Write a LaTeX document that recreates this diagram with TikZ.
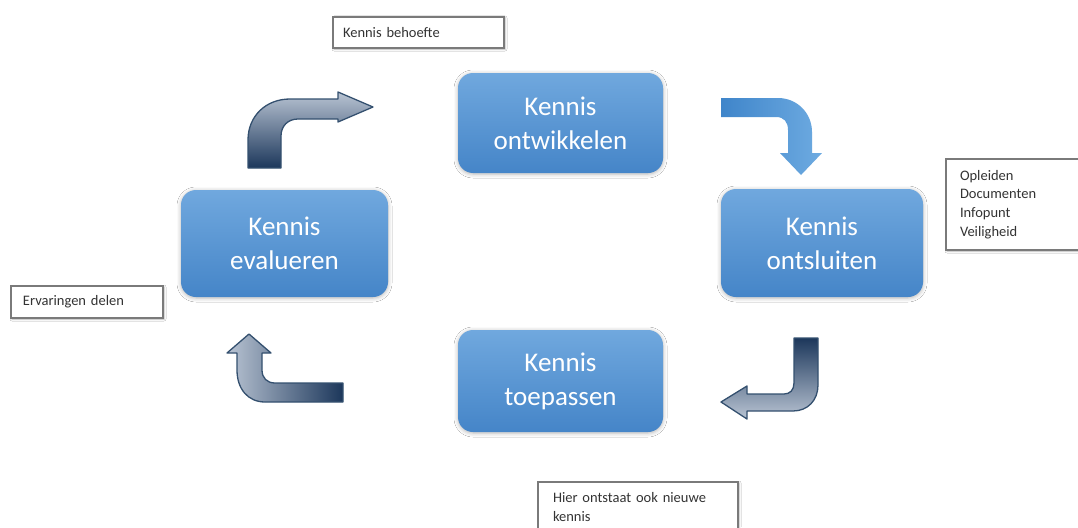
\documentclass[tikz,border=0pt]{standalone}
\usepackage{fontspec}
\setmainfont{Carlito}
\usetikzlibrary{shadows.blur}
\definecolor{boxtop}{HTML}{70A8DE}
\definecolor{boxbot}{HTML}{4585C8}
\definecolor{navy}{HTML}{1C375B}
\definecolor{steel}{HTML}{B9C4D3}
\definecolor{outl}{HTML}{34506F}
\definecolor{blueL}{HTML}{3F85CA}
\definecolor{blueR}{HTML}{6EABE1}
\definecolor{lbltext}{HTML}{333333}
\definecolor{lblline}{HTML}{7A7A7A}
\tikzset{
  mainbox/.style={rounded corners=15pt, top color=boxtop, bottom color=boxbot,
    draw=none, text=white, font=\fontsize{27}{34}\selectfont, align=center,
    blur shadow={shadow xshift=0pt, shadow yshift=-1pt, shadow blur radius=4pt, shadow opacity=30}},
  lblbox/.style={draw=lblline, line width=1.3pt, fill=white, text=lbltext,
    font=\fontsize{14.5}{18.7}\selectfont, align=left, inner ysep=0pt,
    blur shadow={shadow xshift=1pt, shadow yshift=-1pt, shadow blur radius=2pt, shadow opacity=30}},
  grayarrow/.style={draw=outl, line width=1.3pt, line join=round},
  bluearrow/.style={draw=none, left color=blueL, right color=blueR}
}
\begin{document}
\begin{tikzpicture}[x=1pt,y=-1pt]
\useasboundingbox (0,0) rectangle (1078,527);
\clip (0,0) rectangle (1078,527);
\fill[white] (0,0) rectangle (1078,527);

% main boxes
\node[mainbox, minimum width=205pt, minimum height=100pt] (ontw) at (560.5,123) {Kennis\\ontwikkelen};
\node[mainbox, minimum width=202pt, minimum height=108pt] (ontsl) at (822,243) {Kennis\\ontsluiten};
\node[mainbox, minimum width=205pt, minimum height=102pt] (toep) at (560.5,381) {Kennis\\toepassen};
\node[mainbox, minimum width=207pt, minimum height=107pt] (eval) at (284.5,243.5) {Kennis\\evalueren};

% label boxes
\node[lblbox, minimum width=171pt, minimum height=31pt, text width=151pt, inner xsep=10pt] (behoefte) at (418.5,32.5) {Kennis behoefte};
\node[lblbox, minimum width=152pt, minimum height=32pt, text width=128pt, inner xsep=12pt] (ervaring) at (87,302) {Ervaringen delen};
\node[lblbox, minimum width=140pt, minimum height=91pt, text width=112pt, inner xsep=14pt] (opleiden) at (1016,204.5) {Opleiden\\Documenten\\Infopunt\\Veiligheid};
\node[lblbox, minimum width=200pt, minimum height=50pt, text width=170pt, inner xsep=15pt] (hier) at (638,507) {Hier ontstaat ook nieuwe\\kennis};

% arrow evalueren -> ontwikkelen
\draw[grayarrow, top color=steel, bottom color=navy]
  (248,168) -- (248,140) .. controls (248,116) and (266,99) .. (290,99)
  -- (338,99) -- (338,92) -- (373,107) -- (338,122) -- (338,119)
  -- (298,119) .. controls (288,119) and (281,126) .. (281,136)
  -- (281,168) -- cycle;

% arrow ontwikkelen -> ontsluiten
\path[bluearrow]
  (721,98) -- (778,98) .. controls (797,98) and (812,113) .. (812,132)
  -- (812,153) -- (822,153) -- (801,175) -- (780,153) -- (788,153)
  -- (788,130) .. controls (788,122) and (784,117) .. (776,117)
  -- (721,117) -- cycle;

% arrow ontsluiten -> toepassen
\draw[grayarrow, top color=navy, bottom color=steel]
  (794,338) -- (818,338) -- (818,385) .. controls (818,400) and (808,411) .. (793,411)
  -- (747,411) -- (747,419) -- (721,402) -- (747,386) -- (747,394)
  -- (784,394) .. controls (790,394) and (794,390) .. (794,383) -- cycle;

% arrow toepassen -> evalueren
\draw[grayarrow, left color=steel, right color=navy]
  (343,383) -- (275,383) .. controls (267,383) and (262,378) .. (262,370)
  -- (262,353) -- (271,353) -- (249,334) -- (227,353) -- (237,353)
  -- (237,370) .. controls (237,389) and (248,402) .. (265,402)
  -- (343,402) -- cycle;
\end{tikzpicture}
\end{document}
